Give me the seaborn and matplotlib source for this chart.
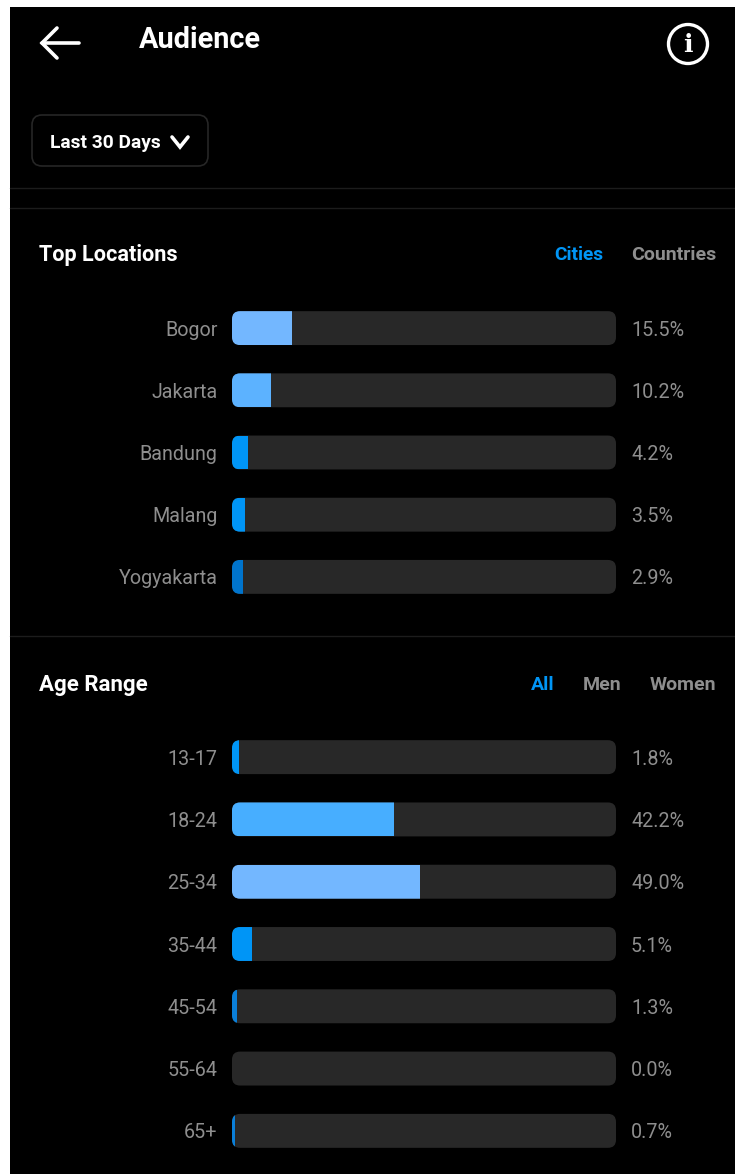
#!/usr/bin/env python3
import matplotlib
matplotlib.use('Agg')
import matplotlib.pyplot as plt
from matplotlib.patches import Circle, FancyBboxPatch, Rectangle
import seaborn as sns

W, H = 735, 1174

CITIES = ['Bogor', 'Jakarta', 'Bandung', 'Malang', 'Yogyakarta']
CITY_VALUES = [15.5, 10.2, 4.2, 3.5, 2.9]
CITY_LABELS = ['15.5%', '10.2%', '4.2%', '3.5%', '2.9%']
CITY_COLORS = ['#73B7FF', '#5CB2FF', '#0095F6', '#0095F6', '#0074CC']

AGES = ['13-17', '18-24', '25-34', '35-44', '45-54', '55-64', '65+']
AGE_VALUES = [1.8, 42.2, 49.0, 5.1, 1.3, 0.0, 0.7]
AGE_LABELS = ['1.8%', '42.2%', '49.0%', '5.1%', '1.3%', '0.0%', '0.7%']
AGE_COLORS = ['#0095F6', '#47AEFF', '#73B7FF', '#0095F6', '#0A7FD9', '#0A7FD9', '#0A7FD9']

TRACK = '#282828'
GREY = '#8E8E8E'
BLUE = '#0095F6'
LINE = '#1C1C1C'

sns.set_theme(style='white')
plt.rcParams['font.family'] = ['Roboto', 'DejaVu Sans']


def bar_panel(fig, top, bottom, cats, values, labels, colors):
    ax = fig.add_axes([232 / W, 1 - bottom / H, 384 / W, (bottom - top) / H])
    ax.set_facecolor('none')
    sns.barplot(x=[100] * len(cats), y=cats, color=TRACK, saturation=1, width=0.545,
                linewidth=0, ax=ax)
    sns.barplot(x=values, y=cats, hue=cats, palette=colors, saturation=1, width=0.545,
                linewidth=0, legend=False, ax=ax)
    ax.set_xlim(0, 100)
    ax.set_ylim(len(cats) - 0.5, -0.5)

    # rounded tracks, the fills get clipped to them
    x_px = 384 / 100
    y_px = (bottom - top) / len(cats)
    rounded = {}
    track_bars = ax.containers[0]
    for bar in track_bars:
        box = FancyBboxPatch((bar.get_x(), bar.get_y()), bar.get_width(), bar.get_height(),
                             boxstyle=f'round,pad=0,rounding_size={8 / x_px}',
                             mutation_aspect=x_px / y_px,
                             facecolor=TRACK, edgecolor='none', zorder=1)
        ax.add_patch(box)
        rounded[round(bar.get_y() + bar.get_height() / 2)] = box
        bar.set_visible(False)
    for cont in ax.containers[1:]:
        for bar in cont:
            bar.set_zorder(2)
            bar.set_edgecolor('none')
            bar.set_clip_path(rounded[round(bar.get_y() + bar.get_height() / 2)])

    texts = ax.bar_label(track_bars, labels=labels, padding=15 * 0.72, color=GREY, fontsize=14.2)
    for t in texts:
        t.set_va('center_baseline')
    ax.set_xlabel('')
    ax.set_ylabel('')
    ax.set_xticks([])
    ax.tick_params(axis='y', length=0, pad=14.5 * 0.72, labelcolor=GREY, labelsize=14.2)
    sns.despine(ax=ax, left=True, bottom=True)
    return ax


fig = plt.figure(figsize=(W / 100, H / 100), dpi=100, facecolor='white')

# app chrome, in pixel coordinates
ui = fig.add_axes([0, 0, 1, 1])
ui.set_xlim(0, W)
ui.set_ylim(H, 0)
ui.axis('off')
ui.add_patch(Rectangle((10, 7), W - 10, H - 7, facecolor='black', edgecolor='none'))

ui.plot([42, 79], [43, 43], color='white', lw=2.6, solid_capstyle='round')
ui.plot([57, 42, 57], [28, 43, 58], color='white', lw=2.6,
        solid_capstyle='round', solid_joinstyle='miter')
ui.text(139, 39.5, 'Audience', color='white', fontsize=20.8, fontweight='bold', va='center')
ui.add_patch(Circle((688, 44), 19.5, facecolor='none', edgecolor='white', lw=2.4))
ui.text(688, 45, 'i', color='white', fontsize=18, fontweight='bold', ha='center', va='center',
        family=['DejaVu Serif'])

ui.add_patch(FancyBboxPatch((32, 115), 176, 51, boxstyle='round,pad=0,rounding_size=10',
                            facecolor='black', edgecolor='#262626', lw=1.2))
ui.text(50, 142.5, 'Last 30 Days', color='white', fontsize=13.8, fontweight='bold', va='center')
ui.plot([172, 180, 188], [137, 147, 137], color='white', lw=2.6, solid_joinstyle='miter')

for y in [188, 208, 636]:
    ui.plot([10, W], [y, y], color=LINE, lw=1)

ui.text(39, 255, 'Top Locations', color='white', fontsize=15.6, fontweight='bold', va='center')
ui.text(603, 255, 'Cities', color=BLUE, fontsize=13.8, fontweight='bold', va='center', ha='right')
ui.text(716, 255, 'Countries', color=GREY, fontsize=14, fontweight='bold', va='center', ha='right')

ui.text(39, 685, 'Age Range', color='white', fontsize=16, fontweight='bold', va='center')
ui.text(555, 684.5, 'All', color=BLUE, fontsize=14, fontweight='bold', va='center', ha='right')
ui.text(621, 684.5, 'Men', color=GREY, fontsize=14, fontweight='bold', va='center', ha='right')
ui.text(716, 684.5, 'Women', color=GREY, fontsize=14, fontweight='bold', va='center', ha='right')

bar_panel(fig, 297, 608, CITIES, CITY_VALUES, CITY_LABELS, CITY_COLORS)
bar_panel(fig, 726, 1162, AGES, AGE_VALUES, AGE_LABELS, AGE_COLORS)

fig.savefig('out.png', dpi=100, facecolor='white')
plt.close(fig)
